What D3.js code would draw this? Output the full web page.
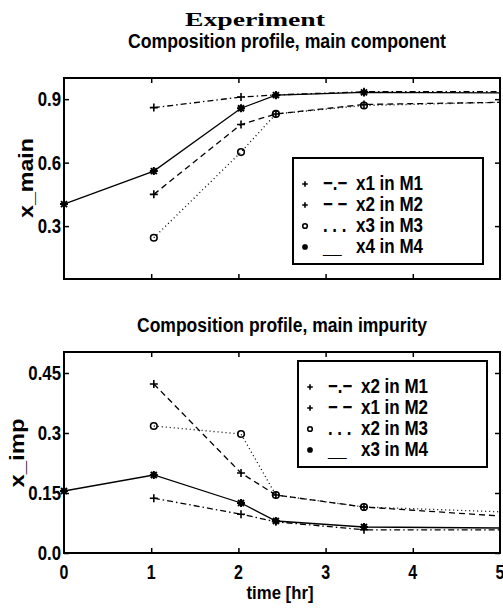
<!DOCTYPE html>
<html>
<head>
<meta charset="utf-8">
<script src="https://cdn.jsdelivr.net/npm/d3@7"></script>
<style>
  body { margin: 0; background: #fff; }
  text { font-family: "Liberation Sans", Arial, sans-serif; font-weight: bold; fill: #000; }
</style>
</head>
<body>
<div id="chart"></div>
<script>
(function() {
  var times = [0, 1.03, 2.03, 2.43, 3.44, 5];

  // top panel: main component
  var mainM1 = [null, 0.86, 0.91, 0.92, 0.935, 0.935];
  var mainM2 = [null, 0.45, 0.78, 0.83, 0.875, 0.885];
  var mainM3 = [null, 0.245, 0.65, 0.83, 0.87, 0.885];
  var mainM4 = [0.404, 0.56, 0.857, 0.919, 0.932, 0.93];
  var mainLabels = ["x1 in M1", "x2 in M2", "x3 in M3", "x4 in M4"];

  // bottom panel: main impurity
  var impM1 = [null, 0.137, 0.097, 0.078, 0.058, 0.058];
  var impM2 = [null, 0.4225, 0.2, 0.145, 0.115, 0.0925];
  var impM3 = [null, 0.3175, 0.2975, 0.145, 0.115, 0.103];
  var impM4 = [0.155, 0.195, 0.125, 0.08, 0.065, 0.0625];
  var impLabels = ["x2 in M1", "x1 in M2", "x2 in M3", "x3 in M4"];

  var xTicks = [0, 1, 2, 3, 4, 5];
  var mainTicks = [0.3, 0.6, 0.9];
  var impTicks = [0.0, 0.15, 0.3, 0.45];

  var styles = [
    { dash: "6,3,1.5,3", marker: "plus", sym: "\u2212.\u2212" },
    { dash: "6,4", marker: "plus", sym: "\u2212 \u2212" },
    { dash: "1,3", marker: "circle", sym: ". . . " },
    { dash: null, marker: "star", sym: "__ " }
  ];

  var svg = d3.select("#chart").append("svg").attr("width", 503).attr("height", 609);

  // narrow bold text, like the condensed font of the original
  var txt = function(g, tx, ty, str, size, anchor, rot) {
    return g.append("text")
      .attr("transform", "translate(" + tx + "," + ty + ")" + (rot ? " rotate(-90)" : "") + " scale(0.8,1)")
      .attr("text-anchor", anchor || "start").style("font-size", size + "px").text(str);
  };

  svg.append("text").attr("x", 255).attr("y", 26).attr("text-anchor", "middle")
    .style("font-family", "'Liberation Serif', serif").style("font-size", "19px")
    .attr("textLength", 140).attr("lengthAdjust", "spacingAndGlyphs").text("Experiment");

  var x = d3.scaleLinear().domain([0, 5]).range([64, 500]);

  var drawPanel = function(opts) {
    var y = d3.scaleLinear().domain(opts.ydom).range([opts.bottom, opts.top]);
    var g = svg.append("g");

    g.append("text").attr("x", opts.titleX).attr("y", opts.titleY).attr("text-anchor", "middle")
      .style("font-size", "20px").attr("textLength", opts.titleW).attr("lengthAdjust", "spacingAndGlyphs")
      .text(opts.title);

    var axes = [
      [d3.axisBottom(x).tickValues([1, 2, 3, 4]), "translate(0," + opts.bottom + ")"],
      [d3.axisTop(x).tickValues([1, 2, 3, 4]), "translate(0," + opts.top + ")"],
      [d3.axisLeft(y).tickValues(opts.yticks), "translate(64,0)"],
      [d3.axisRight(y).tickValues(opts.yticks), "translate(500,0)"]
    ];
    axes.forEach(function(a) {
      var ax = g.append("g").attr("transform", a[1])
        .call(a[0].tickSizeInner(-5).tickSizeOuter(0).tickFormat(""));
      ax.select(".domain").remove();
      ax.selectAll("line").attr("stroke-width", 1.5);
    });

    g.append("rect").attr("x", 64).attr("y", opts.top).attr("width", 436)
      .attr("height", opts.bottom - opts.top).attr("fill", "none")
      .attr("stroke", "#000").attr("stroke-width", 2);

    opts.yticks.forEach(function(d) {
      txt(g, 61, y(d) + 7, opts.fmt(d), 21, "end");
    });

    g.append("text").attr("transform", "translate(" + opts.ylabX + "," + opts.ylabY + ") rotate(-90)")
      .attr("text-anchor", "middle").style("font-size", "21px")
      .attr("textLength", opts.ylabW).attr("lengthAdjust", "spacingAndGlyphs").text(opts.ylab);

    var line = d3.line()
      .defined(function(d) { return d[1] !== null; })
      .x(function(d) { return x(d[0]); })
      .y(function(d) { return y(d[1]); });

    opts.series.forEach(function(vals, i) {
      var pts = times.map(function(t, k) { return [t, vals[k]]; });
      g.append("path").datum(pts).attr("d", line).attr("fill", "none")
        .attr("stroke", "#000").attr("stroke-width", 1.3)
        .attr("stroke-dasharray", styles[i].dash);
      var mk = pts.filter(function(d) { return d[1] !== null && d[0] < 5; });
      mk.forEach(function(d) {
        drawMarker(g, styles[i].marker, x(d[0]), y(d[1]), 1);
      });
    });

    // legend
    var lg = g.append("g");
    lg.append("rect").attr("x", opts.leg[0]).attr("y", opts.leg[1]).attr("width", opts.leg[2])
      .attr("height", opts.leg[3]).attr("fill", "#fff").attr("stroke", "#000").attr("stroke-width", 2);
    opts.labels.forEach(function(lab, i) {
      var by = opts.legRow0 + i * 21;
      drawMarker(lg, styles[i].marker, opts.leg[0] + 12, by - 6, 0.7);
      txt(lg, opts.leg[0] + 30, by, styles[i].sym, 21);
      lg.append("text").attr("x", opts.leg[0] + 63).attr("y", by).style("font-size", "21px")
        .attr("textLength", 67).attr("lengthAdjust", "spacingAndGlyphs").text(lab);
    });
  };

  var drawMarker = function(g, type, cx, cy, s) {
    var r = 4 * s;
    if (type === "plus") {
      g.append("path").attr("d", "M" + (cx - r) + "," + cy + "H" + (cx + r) + "M" + cx + "," + (cy - r) + "V" + (cy + r))
        .attr("stroke", "#000").attr("stroke-width", 1.6);
    } else if (type === "circle") {
      g.append("circle").attr("cx", cx).attr("cy", cy).attr("r", 3.3 * s)
        .attr("fill", "none").attr("stroke", "#000").attr("stroke-width", 1.6);
    } else {
      var d = r * 0.75;
      g.append("path").attr("d", "M" + (cx - r) + "," + cy + "H" + (cx + r) + "M" + cx + "," + (cy - r) + "V" + (cy + r) +
        "M" + (cx - d) + "," + (cy - d) + "L" + (cx + d) + "," + (cy + d) +
        "M" + (cx - d) + "," + (cy + d) + "L" + (cx + d) + "," + (cy - d))
        .attr("stroke", "#000").attr("stroke-width", 2);
    }
  };

  drawPanel({
    top: 78, bottom: 279, ydom: [0.05, 1.0], yticks: mainTicks,
    fmt: d3.format(".1f"), title: "Composition profile, main component",
    titleX: 287, titleY: 48, titleW: 318, ylab: "x_main", ylabX: 33, ylabY: 178, ylabW: 80,
    series: [mainM1, mainM2, mainM3, mainM4], labels: mainLabels,
    leg: [293, 158, 190, 106], legRow0: 190
  });

  drawPanel({
    top: 352, bottom: 553, ydom: [0, 0.5025], yticks: impTicks,
    fmt: function(d) { return d === 0 ? "0.0" : String(d); }, title: "Composition profile, main impurity",
    titleX: 282, titleY: 332, titleW: 290, ylab: "x_imp", ylabX: 24, ylabY: 453, ylabW: 69,
    series: [impM1, impM2, impM3, impM4], labels: impLabels,
    leg: [298, 361, 189, 106], legRow0: 393
  });

  xTicks.forEach(function(d) {
    txt(svg, x(d), 579, String(d), 20, "middle");
  });

  svg.append("text").attr("x", 280).attr("y", 599).attr("text-anchor", "middle")
    .style("font-size", "18px").attr("textLength", 67).attr("lengthAdjust", "spacingAndGlyphs")
    .text("time [hr]");
}).call(this);
</script>
</body>
</html>
